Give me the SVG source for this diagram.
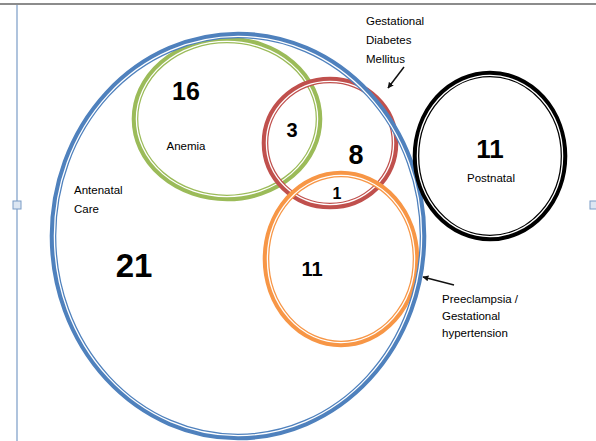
<svg xmlns="http://www.w3.org/2000/svg" width="596" height="441" viewBox="0 0 596 441">
<style>
.o{fill:none;stroke-width:6.6}
.g{fill:none;stroke:#fff;stroke-width:1.3}
.n{font-family:"Liberation Sans",Arial,sans-serif;font-weight:bold;fill:#000;text-anchor:middle}
.l{font-family:"Liberation Sans",Arial,sans-serif;font-size:11.5px;fill:#000}
.a{stroke:#111;stroke-width:1.5;fill:none;marker-end:url(#ah)}
</style>
<defs>
<marker id="ah" viewBox="0 0 10 10" refX="9" refY="5" markerWidth="6" markerHeight="6" orient="auto" markerUnits="userSpaceOnUse"><path d="M0,0 L10,5 L0,10 z" fill="#111"/></marker>
</defs>
<rect width="596" height="441" fill="#fff"/>
<g id="frame">
<line x1="0" y1="4" x2="596" y2="4" stroke="#666" stroke-width="1.5"/>
<line x1="17" y1="5" x2="17" y2="441" stroke="#7a9cc6" stroke-width="1.2"/>
<rect x="13" y="201" width="8" height="8" fill="#dce6f2" stroke="#7a9cc6"/>
<rect x="590" y="201" width="8" height="8" fill="#dce6f2" stroke="#7a9cc6"/>
</g>
<g id="anemia">
<ellipse class="o" stroke="#9BBB59" cx="227" cy="119" rx="92" ry="79"/>
<ellipse class="g" cx="227" cy="119" rx="90.6" ry="77.6"/>
<text class="n" x="186" y="100" font-size="25">16</text>
<text class="l" x="186" y="150" text-anchor="middle" font-size="11">Anemia</text>
</g>
<g id="gdm">
<ellipse class="o" stroke="#C0504D" cx="330" cy="143" rx="65" ry="63"/>
<ellipse class="g" cx="330" cy="143" rx="63.6" ry="61.6"/>
<text class="n" x="292" y="137" font-size="20">3</text>
<text class="n" x="356" y="164" font-size="27">8</text>
</g>
<g id="preeclampsia">
<ellipse class="o" stroke="#F79646" cx="341" cy="259" rx="75" ry="85"/>
<ellipse class="g" cx="341" cy="259" rx="73.6" ry="83.6"/>
<text class="n" x="337" y="199" font-size="16">1</text>
<text class="n" x="312" y="276" font-size="20">11</text>
</g>
<g id="antenatal">
<ellipse class="o" stroke="#4F81BD" cx="238" cy="236" rx="185" ry="201"/>
<ellipse class="g" cx="238" cy="236" rx="183.6" ry="199.6"/>
<text class="l" x="74" y="194" font-size="13">Antenatal</text>
<text class="l" x="74" y="213" font-size="13">Care</text>
<text class="n" x="134" y="277" font-size="33">21</text>
</g>
<g id="postnatal">
<ellipse class="o" stroke="#000" cx="490" cy="156" rx="74" ry="82"/>
<ellipse class="g" cx="490" cy="156" rx="72.6" ry="80.6"/>
<text class="n" x="490" y="158" font-size="26">11</text>
<text class="l" x="491" y="182" text-anchor="middle" font-size="12">Postnatal</text>
</g>
<g id="labels">
<text class="l" x="366" y="25">Gestational</text>
<text class="l" x="366" y="44">Diabetes</text>
<text class="l" x="366" y="63">Mellitus</text>
<text class="l" x="442" y="303">Preeclampsia /</text>
<text class="l" x="442" y="320">Gestational</text>
<text class="l" x="442" y="337">hypertension</text>
</g>
<g id="connectors">
<line class="a" x1="404" y1="67" x2="388" y2="88"/>
<line class="a" x1="454" y1="285" x2="423" y2="277"/>
</g>
</svg>
